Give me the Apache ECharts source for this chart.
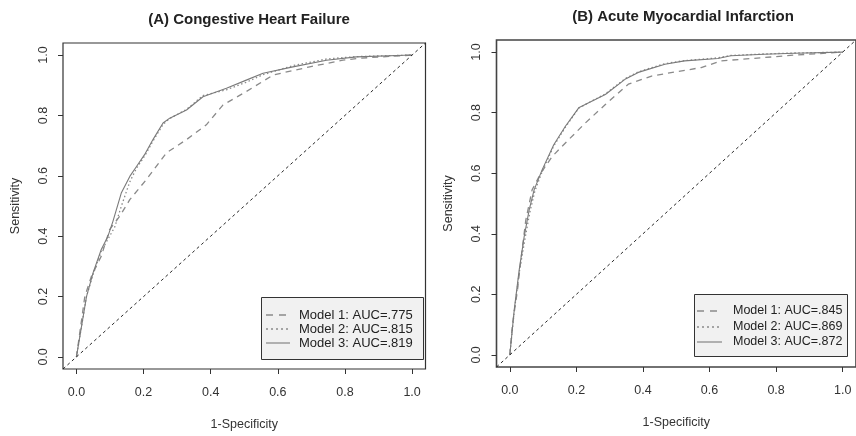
<!DOCTYPE html>
<html>
<head>
<meta charset="utf-8">
<script src="https://cdn.jsdelivr.net/npm/echarts@6/dist/echarts.min.js"></script>
<style>html,body{margin:0;padding:0;background:#fff;}#c{width:856px;height:436px;}</style>
</head>
<body>
<div id="c"></div>
<script>
// ---- data ----
const panelTitles = ['(A) Congestive Heart Failure', '(B) Acute Myocardial Infarction'];
const tickValues = [0, 0.2, 0.4, 0.6, 0.8, 1.0];
const xLabel = '1-Specificity';
const yLabel = 'Sensitivity';
const namesA = ['Model 1: AUC=.775', 'Model 2: AUC=.815', 'Model 3: AUC=.819'];
const namesB = ['Model 1: AUC=.845', 'Model 2: AUC=.869', 'Model 3: AUC=.872'];

// [1-specificity, sensitivity]
const chfModel1 = [[0,0],[.025,.20],[.045,.268],[.074,.334],[.099,.422],[.129,.466],[.159,.521],[.208,.587],[.268,.676],[.328,.72],[.387,.769],[.437,.835],[.506,.879],[.586,.934],[.695,.961],[.794,.983],[.85,.99],[1,1]];
const chfModel2 = [[0,0],[.03,.20],[.05,.275],[.074,.35],[.094,.39],[.114,.43],[.134,.50],[.159,.58],[.179,.625],[.203,.665],[.228,.715],[.258,.77],[.278,.79],[.328,.82],[.377,.866],[.447,.885],[.506,.91],[.556,.935],[.645,.965],[.745,.987],[.834,.995],[1,1]];
const chfModel3 = [[0,0],[.03,.20],[.05,.28],[.074,.356],[.094,.40],[.109,.45],[.134,.544],[.159,.598],[.179,.631],[.203,.67],[.228,.72],[.258,.775],[.278,.791],[.328,.818],[.377,.862],[.447,.89],[.506,.917],[.556,.94],[.645,.961],[.745,.983],[.834,.994],[1,1]];

const amiModel1 = [[0,0],[.008,.102],[.023,.213],[.033,.312],[.048,.445],[.067,.545],[.093,.60],[.127,.655],[.167,.70],[.227,.766],[.287,.827],[.356,.894],[.426,.921],[.575,.949],[.635,.971],[.764,.982],[.854,.99],[1,1]];
const amiModel2 = [[0,0],[.013,.14],[.028,.27],[.045,.38],[.06,.47],[.075,.54],[.097,.605],[.132,.69],[.167,.752],[.207,.815],[.237,.833],[.287,.862],[.346,.912],[.386,.935],[.466,.962],[.525,.972],[.625,.981],[.664,.989],[.764,.994],[.854,.997],[1,1]];
const amiModel3 = [[0,0],[.013,.146],[.028,.279],[.043,.39],[.058,.478],[.073,.545],[.097,.611],[.132,.694],[.167,.755],[.207,.816],[.237,.833],[.287,.86],[.346,.91],[.386,.933],[.466,.96],[.525,.971],[.625,.979],[.664,.988],[.764,.993],[.854,.996],[1,1]];

const diagonal = [[-0.04,-0.04],[1.04,1.04]];

// ---- styles ----
const FONT = 'Liberation Sans, Arial, sans-serif';
const styles = [
  {color:'#8a8a8a', width:1.3, type:[6,5], legendDash:[7,6]},
  {color:'#8a8a8a', width:1.3, type:[1.5,2.5], legendDash:[2,3]},
  {color:'#7a7a7a', width:1.1, type:'solid', legendDash:null}
];

function xAxisFor(g){
  return {
    type:'value', gridIndex:g, min:-0.04, max:1.04,
    name:xLabel, nameLocation:'middle', nameGap:49,
    nameTextStyle:{fontFamily:FONT, fontSize:12.5, color:'#333'},
    axisLine:{show:false, onZero:false},
    axisTick:{show:true, inside:false, length:5, customValues:tickValues, lineStyle:{color:'#333', width:1}},
    axisLabel:{customValues:tickValues, formatter:v=>v.toFixed(1), margin:17, fontFamily:FONT, fontSize:12.5, color:'#333'},
    splitLine:{show:false}
  };
}
function yAxisFor(g){
  return {
    type:'value', gridIndex:g, min:-0.04, max:1.04,
    name:yLabel, nameLocation:'middle', nameGap:41, nameRotate:90,
    nameTextStyle:{fontFamily:FONT, fontSize:12.5, color:'#333'},
    axisLine:{show:false, onZero:false},
    axisTick:{show:true, inside:false, length:5, customValues:tickValues, lineStyle:{color:'#333', width:1}},
    axisLabel:{customValues:tickValues, formatter:v=>v.toFixed(1), rotate:90, margin:13, fontFamily:FONT, fontSize:12.5, color:'#333'},
    splitLine:{show:false}
  };
}
function lineSeries(name, data, g, st){
  return {
    name:name, type:'line', xAxisIndex:g, yAxisIndex:g, data:data,
    symbol:'none', smooth:false, silent:true, animation:false,
    lineStyle:{color:st.color, width:st.width, type:st.type},
    itemStyle:{color:st.color}
  };
}

const series = [];
[chfModel1, chfModel2, chfModel3].forEach((d,i)=>series.push(lineSeries(namesA[i], d, 0, styles[i])));
[amiModel1, amiModel2, amiModel3].forEach((d,i)=>series.push(lineSeries(namesB[i], d, 1, styles[i])));
series.push({type:'line', xAxisIndex:0, yAxisIndex:0, data:diagonal, symbol:'none', silent:true, animation:false, lineStyle:{color:'#111', width:0.9, type:[3,3]}});
series.push({type:'line', xAxisIndex:1, yAxisIndex:1, data:diagonal, symbol:'none', silent:true, animation:false, lineStyle:{color:'#111', width:0.9, type:[3,3]}});

// legend boxes (R-style), drawn as graphics
function legendGraphic(names, box, rows, lineX, textX, fontSize){
  const els = [{type:'rect', shape:{x:box[0], y:box[1], width:box[2], height:box[3]},
    style:{fill:'#f1f1f1', stroke:'#333', lineWidth:1}, z:100}];
  names.forEach((n,i)=>{
    const st = styles[i];
    els.push({type:'line', shape:{x1:lineX[0], y1:rows[i], x2:lineX[1], y2:rows[i]},
      style:{stroke:st.color, lineWidth:st.width, lineDash: st.legendDash}, z:101});
    els.push({type:'text', x:textX, y:rows[i], style:{text:n, fill:'#222', font:fontSize+'px '+FONT, textAlign:'left', textVerticalAlign:'middle'}, z:101});
  });
  return els;
}

const option = {
  backgroundColor:'#fff',
  animation:false,
  title:[
    {text:panelTitles[0], left:244, top:7, textAlign:'center', textStyle:{fontFamily:FONT, fontSize:15, fontWeight:'bold', color:'#222'}},
    {text:panelTitles[1], left:678, top:4, textAlign:'center', textStyle:{fontFamily:FONT, fontSize:15, fontWeight:'bold', color:'#222'}}
  ],
  grid:[
    {left:63, top:43, width:362.5, height:327, show:true, borderColor:'#333', borderWidth:1.2, backgroundColor:'transparent'},
    {left:496.5, top:40, width:362.5, height:327, show:true, borderColor:'#444', borderWidth:1.6, backgroundColor:'transparent'}
  ],
  xAxis:[xAxisFor(0), xAxisFor(1)],
  yAxis:[yAxisFor(0), yAxisFor(1)],
  graphic:[].concat(
    legendGraphic(namesA, [261.5, 297.5, 162, 62], [315, 329, 343], [266, 290], 299, 13),
    legendGraphic(namesB, [694.5, 294.5, 153, 62], [311, 327, 342], [697, 722], 733, 12.5)
  ),
  series:series
};

const chart = echarts.init(document.getElementById('c'), null, {renderer:'canvas'});
chart.setOption(option);
</script>
</body>
</html>
